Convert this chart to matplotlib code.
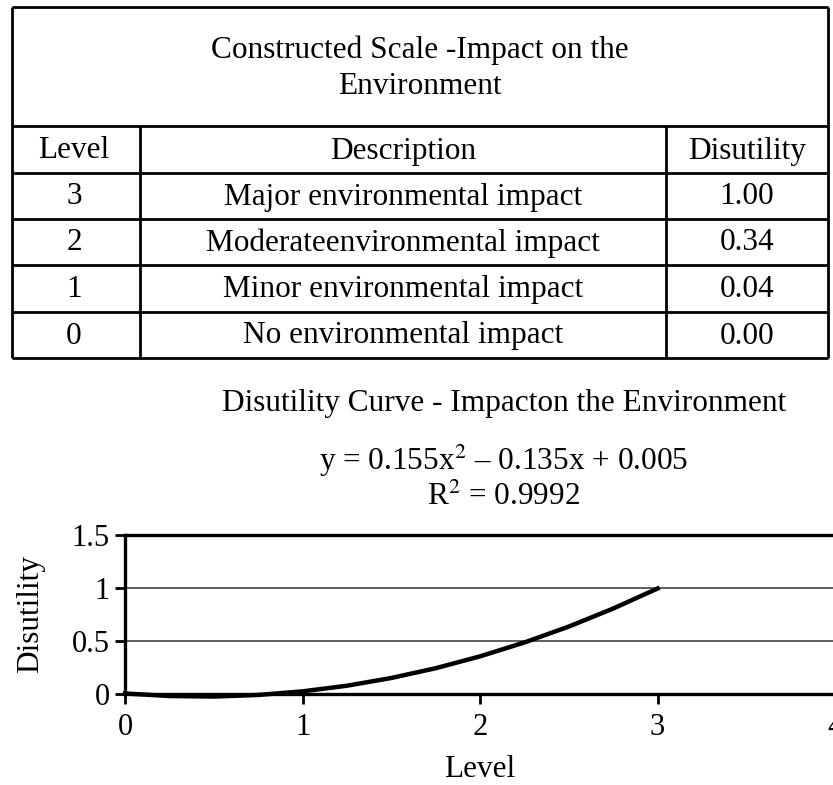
import matplotlib
matplotlib.use("Agg")
import matplotlib.pyplot as plt
from matplotlib.lines import Line2D

plt.rcParams['font.family'] = ['Liberation Serif', 'DejaVu Serif']
plt.rcParams['mathtext.fontset'] = 'stix'

# ---- data ----
table_title = ["Constructed Scale -Impact on the", "Environment"]
col_headers = ["Level", "Description", "Disutility"]
levels = ["3", "2", "1", "0"]
descriptions = ["Major environmental impact", "Moderateenvironmental impact",
                "Minor environmental impact", "No environmental impact"]
disutility = ["1.00", "0.34", "0.04", "0.00"]

chart_title = "Disutility Curve - Impacton the Environment"
equation = "y = 0.155x$^2$ \u2013 0.135x + 0.005"
r2_text = "R$^2$ = 0.9992"

curve_x = [0.0, 0.25, 0.5, 0.75, 1.0, 1.25, 1.5, 1.75, 2.0, 2.25, 2.5, 2.75, 3.0]
curve_y = [0.005, -0.019, -0.024, -0.009, 0.025, 0.078, 0.151, 0.243, 0.355,
           0.486, 0.636, 0.806, 0.995]
x_ticks = [0, 1, 2, 3, 4]
y_ticks = [0, 0.5, 1, 1.5]
y_tick_labels = ["0", "0.5", "1", "1.5"]

W, H = 833, 785
fig = plt.figure(figsize=(W / 100, H / 100), dpi=100)

def fx(px):
    return px / W

def fy(py):
    return 1 - py / H

def hline(x0, x1, y, lw=2.0):
    fig.add_artist(Line2D([fx(x0), fx(x1)], [fy(y), fy(y)], transform=fig.transFigure,
                          color='black', lw=lw, solid_capstyle='butt'))

def vline(x, y0, y1, lw=2.0):
    fig.add_artist(Line2D([fx(x), fx(x)], [fy(y0), fy(y1)], transform=fig.transFigure,
                          color='black', lw=lw, solid_capstyle='butt'))

# ---- table ----
L, R, T = 12, 828, 7
row_lines = [126, 173, 219, 265, 312, 358]
c1, c2 = 140, 666
hline(L, R, T)
for y in row_lines:
    hline(L, R, y)
vline(L, T, row_lines[-1])
vline(R, T, row_lines[-1])
vline(c1, row_lines[0], row_lines[-1])
vline(c2, row_lines[0], row_lines[-1])

fs = 22.5
fig.text(fx((L + R) / 2), fy(50), table_title[0], ha='center', va='center', fontsize=fs)
fig.text(fx((L + R) / 2), fy(87), table_title[1], ha='center', va='center', fontsize=fs)
col_centers = [(L + c1) / 2 - 2, (c1 + c2) / 2, (c2 + R) / 2]
for cx, h in zip(col_centers, col_headers):
    fig.text(fx(cx), fy(151), h, ha='center', va='center', fontsize=fs)
for i, (lv, d, u) in enumerate(zip(levels, descriptions, disutility)):
    yc = (row_lines[i + 1] + row_lines[i + 2]) / 2 + 1
    fig.text(fx(col_centers[0]), fy(yc), lv, ha='center', va='center', fontsize=fs)
    fig.text(fx(col_centers[1]), fy(yc), d, ha='center', va='center', fontsize=fs)
    fig.text(fx(col_centers[2]), fy(yc), u, ha='center', va='center', fontsize=fs)

# ---- chart ----
fig.text(fx(504), fy(403), chart_title, ha='center', va='center', fontsize=fs)
fig.text(fx(504), fy(461), equation, ha='center', va='center', fontsize=fs)
fig.text(fx(504), fy(497), r2_text, ha='center', va='center', fontsize=fs)

ax_l, ax_r, ax_t, ax_b = 125, 835, 535, 694
ax = fig.add_axes([fx(ax_l), fy(ax_b), (ax_r - ax_l) / W, (ax_b - ax_t) / H])
ax.set_xlim(0, 4)
ax.set_ylim(0, 1.5)
ax.plot(curve_x, curve_y, color='black', lw=3.2, clip_on=False, zorder=3)
ax.set_yticks(y_ticks)
ax.set_yticklabels(y_tick_labels)
ax.set_xticks(x_ticks)
for yv in [0.5, 1.0]:
    ax.axhline(yv, color='#444444', lw=1.2, zorder=1)
for s in ['left', 'bottom', 'top']:
    ax.spines[s].set_linewidth(2.4)
ax.spines['right'].set_visible(False)
ax.tick_params(axis='both', direction='out', length=7, width=2, labelsize=fs - 0.5)
ax.tick_params(axis='x', pad=7)
ax.tick_params(axis='y', pad=4)
ax.set_ylabel("Disutility", fontsize=fs, labelpad=19)
ax.set_xlabel("Level", fontsize=fs, labelpad=9)

fig.savefig("out.png", dpi=100)
